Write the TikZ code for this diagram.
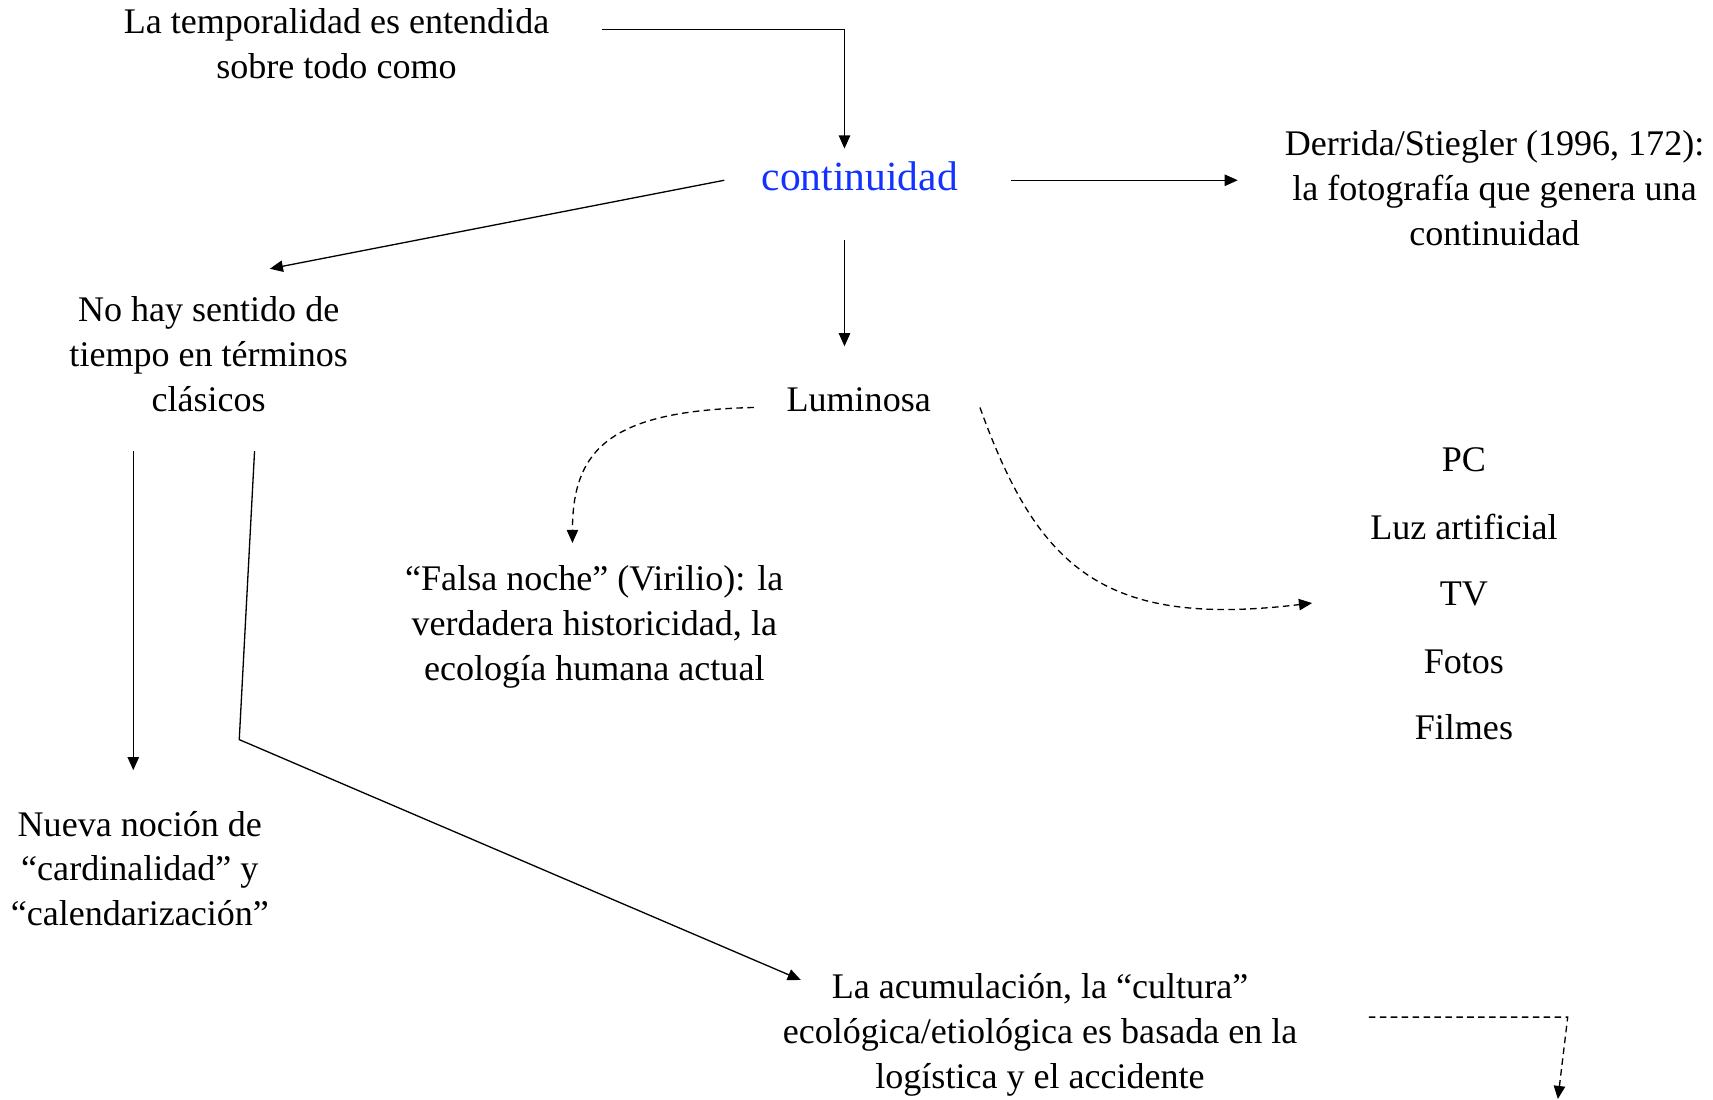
\documentclass[tikz,border=0pt]{standalone}
\usepackage{fontspec}
\setmainfont{Liberation Serif}
\usetikzlibrary{arrows.meta,calc}
\definecolor{contblue}{RGB}{20,50,255}
\begin{document}
\begin{tikzpicture}[x=0.5pt,y=-0.5pt,
  txt/.style={inner sep=0pt,align=center,font=\fontsize{16.5}{20.5}\selectfont},
  arr/.style={line width=0.6pt,-{Triangle[length=6pt,width=5.2pt]}},
  darr/.style={arr,dash pattern=on 3pt off 2pt}]
\useasboundingbox (0,0) rectangle (1568,1006);
% nodes
\node[txt] (temp) at (308,40) {La temporalidad es entendida\\sobre todo como};
\node[txt,font=\fontsize{19}{23}\selectfont,text=contblue] (cont) at (787,161) {continuidad};
\node[txt] (derr) at (1368,172) {Derrida/Stiegler (1996, 172):\\la fotografía que genera una\\continuidad};
\node[txt] (nohay) at (191,324) {No hay sentido de\\tiempo en términos\\clásicos};
\node[txt] (lum) at (786,366) {Luminosa};
\node[txt] (falsa) at (544,574) {“Falsa noche” (Virilio): la\\verdadera historicidad, la\\ecología humana actual};
\node[txt] (pc) at (1340,421) {PC};
\node[txt] (luz) at (1340,482) {Luz artificial};
\node[txt] (tv) at (1340,544) {TV};
\node[txt] (fotos) at (1340,606) {Fotos};
\node[txt] (filmes) at (1340,666) {Filmes};
\node[txt] (nueva) at (128,795) {Nueva noción de\\“cardinalidad” y\\“calendarización”};
\node[txt] (acum) at (952,947) {La acumulación, la “cultura”\\ecológica/etiológica es basada en la\\logística y el accidente};
\coordinate (bend) at (219,677);
\coordinate (dcorner) at (1435,931);
\coordinate (offend) at (1426,1006);
% connectors
\draw[arr] ($(temp.center)+(243,-13)$) -| ($(cont.center)+(-14,-25)$);
\draw[arr] ($(cont.center)+(138,4)$) -- ($(derr.center)+(-235,-7)$);
\draw[arr] ($(cont.center)+(-124,4)$) -- ($(nohay.center)+(56,-78)$);
\draw[arr] ($(cont.center)+(-14,59)$) -- ($(lum.center)+(-13,-49)$);
\draw[darr] ($(lum.center)+(-96,7)$) .. controls ($(lum.center)+(-226,10)$) and ($(falsa.center)+(-20,-164)$) .. ($(falsa.center)+(-20,-77)$);
\draw[darr] ($(lum.center)+(111,7)$) .. controls ($(lum.center)+(164,154)$) and ($(tv.center)+(-330,31)$) .. ($(tv.center)+(-139,8)$);
\draw[arr] ($(nohay.center)+(-69,89)$) -- ($(nueva.center)+(-6,-90)$);
\draw[arr] ($(nohay.center)+(42,89)$) -- (bend) -- ($(acum.center)+(-219,-50)$);
\draw[darr] ($(acum.center)+(301,-16)$) -- (dcorner) -- (offend);
\end{tikzpicture}
\end{document}
